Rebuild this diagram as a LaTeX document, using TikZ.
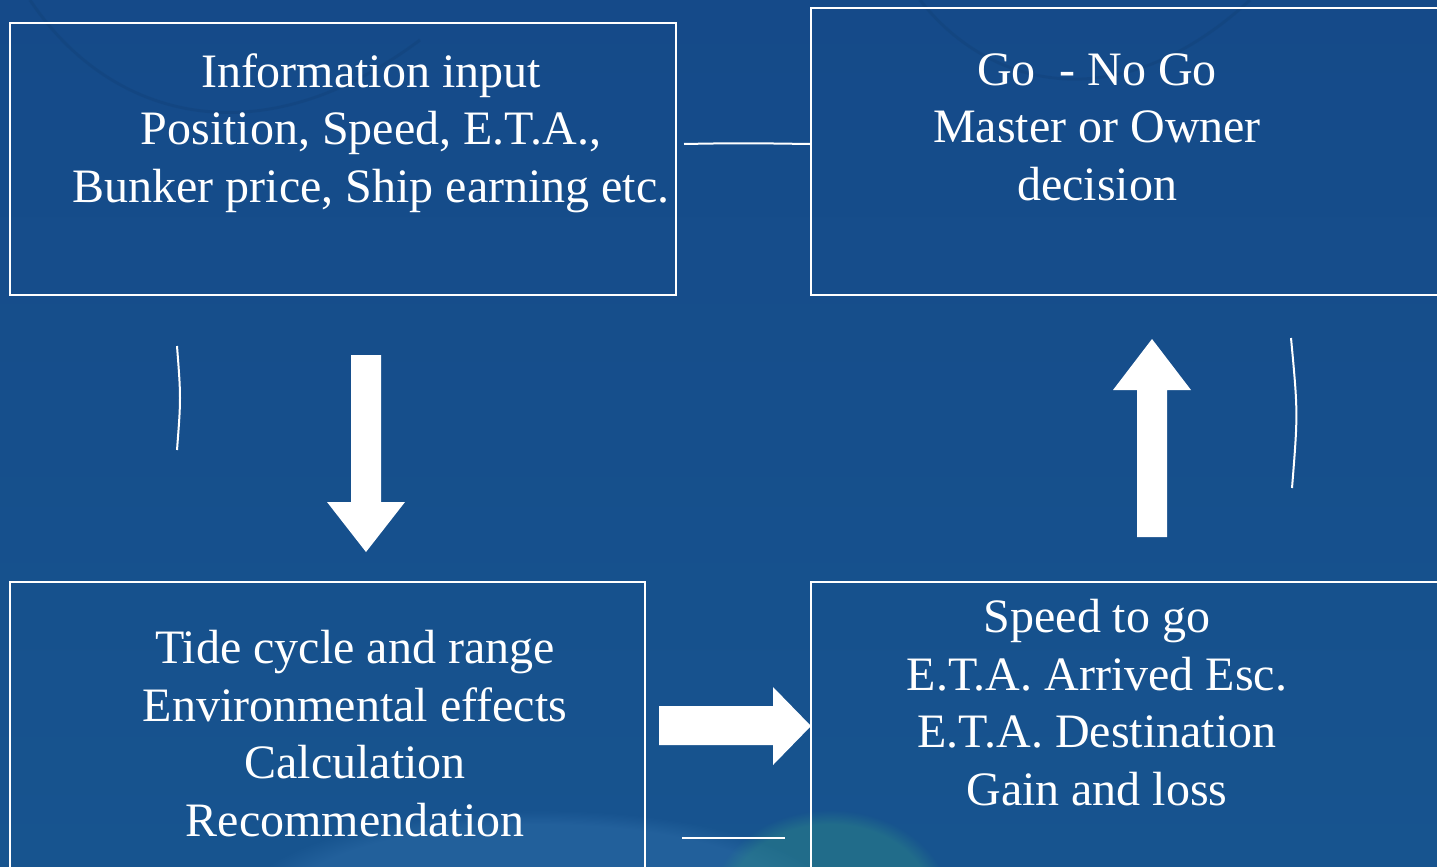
\documentclass[tikz,border=0pt]{standalone}
\usepackage{fontspec}
\setmainfont{Liberation Serif}
\usetikzlibrary{fadings}
\definecolor{seatop}{HTML}{154A89}
\definecolor{seabot}{HTML}{17548F}
\definecolor{glowteal}{HTML}{2E8A86}
\definecolor{glowblue}{HTML}{3C7CB8}
\begin{document}
\begin{tikzpicture}[x=1bp,y=-1bp,
  panel/.style={draw=white, line width=2.2bp, rectangle, inner sep=0},
  caption/.style={text=white, align=center, inner sep=0,
    font=\fontsize{48bp}{57.5bp}\selectfont},
  rule/.style={draw=white, line width=2bp},
  blockarrow/.style={fill=white}]
  % canvas
  \useasboundingbox (0,0) rectangle (1437,866);
  \clip (0,0) rectangle (1437,866);
  \shade[top color=seatop, bottom color=seabot] (0,0) rectangle (1437,866);
  % faint globe arcs and glow in the backdrop
  \draw[black!30!seatop, opacity=0.18, line width=3bp]
    (30,0) .. controls (110,120) and (260,160) .. (420,40);
  \draw[black!30!seatop, opacity=0.18, line width=3bp]
    (920,0) .. controls (990,90) and (1120,120) .. (1250,0);
  \fill[glowblue, opacity=0.3, path fading=circle with fuzzy edge 15 percent]
    (540,905) ellipse (300 and 95);
  \fill[glowteal, opacity=0.45, path fading=circle with fuzzy edge 15 percent]
    (830,905) ellipse (120 and 95);

  % boxes
  \node[panel, minimum width=666bp, minimum height=272bp] (info) at (343,159) {};
  \node[panel, minimum width=636bp, minimum height=287bp] (decide) at (1129,151.5) {};
  \node[panel, minimum width=635bp, minimum height=294bp] (tide) at (327.5,729) {};
  \node[panel, minimum width=636bp, minimum height=294bp] (speed) at (1129,729) {};

  % box texts (anchored on the baseline of the last line)
  \node[caption, anchor=base] (infotext) at (371,202)
    {Information input\\Position, Speed, E.T.A.,\\Bunker price, Ship earning etc.};
  \node[caption, anchor=base] (decidetext) at (1097,200)
    {Go\ \ - No Go\\Master or Owner\\decision};
  \node[caption, anchor=base] (tidetext) at (355,836)
    {Tide cycle and range\\Environmental effects\\Calculation\\Recommendation};
  \node[caption, anchor=base] (speedtext) at (1097,805)
    {Speed to go\\E.T.A. Arrived Esc.\\E.T.A. Destination\\Gain and loss};

  % thin white strokes
  \coordinate (linkstart) at (684,144);
  \draw[rule] (linkstart) .. controls (740,143) .. (decide.west |- linkstart);
  \coordinate (leftA) at (177,346);
  \coordinate (leftB) at (177,450);
  \draw[rule] (leftA) .. controls (181,398) .. (leftB);
  \coordinate (rightA) at (1291,338);
  \coordinate (rightB) at (1292,488);
  \draw[rule] (rightA) .. controls (1298,413) .. (rightB);
  \coordinate (underA) at (682,838);
  \coordinate (underB) at (785,838);
  \draw[rule] (underA) -- (underB);

  % block arrows
  \fill[blockarrow] (351,355) -- (381,355) -- (381,502) -- (405,502) -- (366,552)
    -- (327,502) -- (351,502) -- cycle;
  \fill[blockarrow] (1137,537) -- (1167,537) -- (1167,390) -- (1191,390) -- (1152,339)
    -- (1113,390) -- (1137,390) -- cycle;
  \fill[blockarrow] (659,706) -- (773,706) -- (773,687) -- (811,726) -- (773,765)
    -- (773,745) -- (659,745) -- cycle;
\end{tikzpicture}
\end{document}
